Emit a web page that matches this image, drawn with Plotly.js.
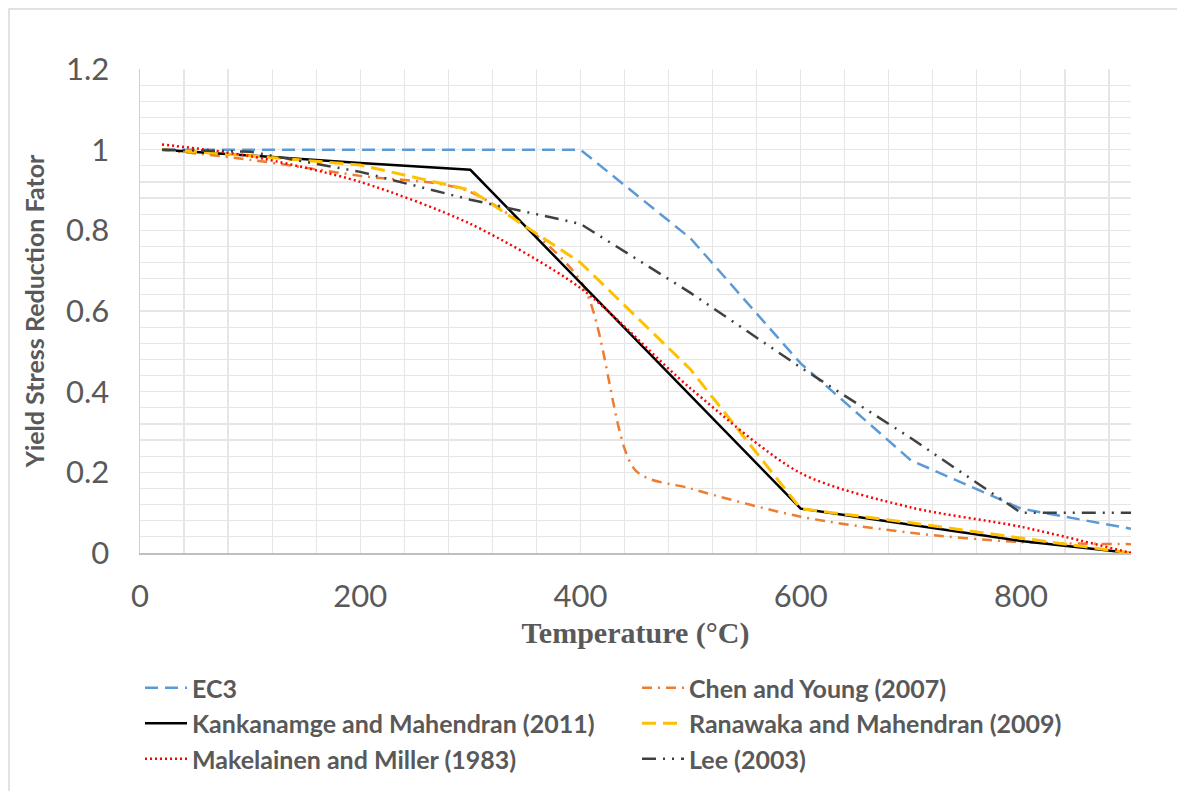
<!DOCTYPE html>
<html>
<head>
<meta charset="utf-8">
<script src="https://cdn.plot.ly/plotly-3.0.1.min.js"></script>
<style>html,body{margin:0;padding:0;background:#fff;}#chart{width:1177px;height:791px;}</style>
</head>
<body>
<div id="chart"></div>
<script>
// ---- data ----
const seriesNames = ["EC3", "Chen and Young (2007)", "Kankanamge and Mahendran (2011)",
  "Ranawaka and Mahendran (2009)", "Makelainen and Miller (1983)", "Lee (2003)"];
const tempsStd = [20, 100, 200, 300, 400, 500, 600, 700, 800, 900];
const tempsChen = [20, 100, 200, 300, 400, 450, 500, 600, 700, 800, 900];
const ec3 = [1, 1, 1, 1, 1, 0.78, 0.47, 0.23, 0.11, 0.06];
const chenYoung = [1, 0.975, 0.935, 0.895, 0.675, 0.205, 0.16, 0.09, 0.05, 0.027, 0.022];
const kankanamge = [1, 0.985, 0.967, 0.95, 0.67, 0.39, 0.11, 0.07, 0.03, 0];
const ranawaka = [1, 0.985, 0.962, 0.9, 0.72, 0.455, 0.11, 0.075, 0.037, 0];
const makelainen = [1.013, 0.984, 0.92, 0.816, 0.657, 0.408, 0.198, 0.113, 0.065, 0];
const lee = [1, 0.995, 0.945, 0.876, 0.816, 0.645, 0.46, 0.285, 0.1, 0.1];
const xTickVals = [0, 200, 400, 600, 800];
const yTickVals = [0, 0.2, 0.4, 0.6, 0.8, 1, 1.2];
const yTickText = ["0", "0.2", "0.4", "0.6", "0.8", "1", "1.2"];

const SANS = "Lato, Carlito, Calibri, sans-serif";
const GRAY = "#595959";
const NBSP = "\u00a0";

const traces = [
  {x: tempsStd, y: ec3, name: seriesNames[0],
   line: {color: "#5b9bd5", width: 2.5, dash: "13px,7px"}},
  {x: tempsChen, y: chenYoung, name: seriesNames[1],
   line: {color: "#ed7d31", width: 2.5, dash: "10px,6px,2px,6px", shape: "spline", smoothing: 0.8}},
  {x: tempsStd, y: kankanamge, name: seriesNames[2],
   line: {color: "#000000", width: 2.5}},
  {x: tempsStd, y: ranawaka, name: seriesNames[3],
   line: {color: "#ffc000", width: 3, dash: "14px,7px"}},
  {x: tempsStd, y: makelainen, name: seriesNames[4],
   line: {color: "#ff0000", width: 2.5, dash: "2px,3px", shape: "spline", smoothing: 0.8}},
  {x: tempsStd, y: lee, name: seriesNames[5],
   line: {color: "#404040", width: 2.5, dash: "14px,7px,2px,7px,2px,7px"}}
].map(t => Object.assign({type: "scatter", mode: "lines", hoverinfo: "x+y+name"}, t));

const L = 140, R = 1131, T = 69, B = 553;
const pw = R - L, ph = B - T;

const layout = {
  width: 1177, height: 791,
  margin: {l: L, r: 1177 - R, t: T, b: 791 - B, pad: 0, autoexpand: false},
  paper_bgcolor: "#ffffff", plot_bgcolor: "#ffffff",
  showlegend: true,
  xaxis: {
    range: [0, 900], tickvals: xTickVals, ticks: "",
    showgrid: true, gridcolor: "#e6e6e6", gridwidth: 1.2,
    minor: {dtick: 40, tick0: 0, showgrid: true, gridcolor: "#e6e6e6", gridwidth: 1.2},
    showline: true, linecolor: "#bfbfbf", linewidth: 1.5,
    zeroline: false,
    tickfont: {family: SANS, size: 31, color: GRAY},
    ticklabelstandoff: 15,
    title: {text: "Temperature (°C)", font: {family: "Liberation Serif, Times New Roman, serif", size: 30, color: GRAY, weight: "bold"}, standoff: 9},
    fixedrange: true
  },
  yaxis: {
    range: [0, 1.2], tickvals: yTickVals, ticktext: yTickText, ticks: "",
    showgrid: true, gridcolor: "#e6e6e6", gridwidth: 1.2,
    minor: {dtick: 0.04, tick0: 0, showgrid: true, gridcolor: "#e6e6e6", gridwidth: 1.2},
    showline: true, linecolor: "#d0d0d0", linewidth: 1.5,
    zeroline: false,
    tickfont: {family: SANS, size: 31, color: GRAY},
    ticklabelstandoff: 23,
    title: {text: "Yield Stress Reduction Fator" + NBSP.repeat(9), font: {family: SANS, size: 25, color: GRAY, weight: "bold"}, standoff: 14},
    fixedrange: true
  },
  legend: {
    orientation: "h", x: 0, xanchor: "left", y: (B - 665) / ph, yanchor: "top",
    entrywidth: 440, entrywidthmode: "pixels", itemwidth: 42,
    font: {family: SANS, size: 25, color: GRAY, weight: "bold"},
    bgcolor: "rgba(0,0,0,0)", borderwidth: 0, traceorder: "normal"
  },
  shapes: [{
    type: "rect", xref: "paper", yref: "paper",
    x0: (9 - L) / pw, x1: (1190 - L) / pw, y0: (B - 800) / ph, y1: (B - 9) / ph,
    line: {color: "#d9d9d9", width: 1.5}, fillcolor: "rgba(0,0,0,0)", layer: "below"
  }]
};

Plotly.newPlot("chart", traces, layout, {displayModeBar: false, staticPlot: true});
</script>
</body>
</html>
